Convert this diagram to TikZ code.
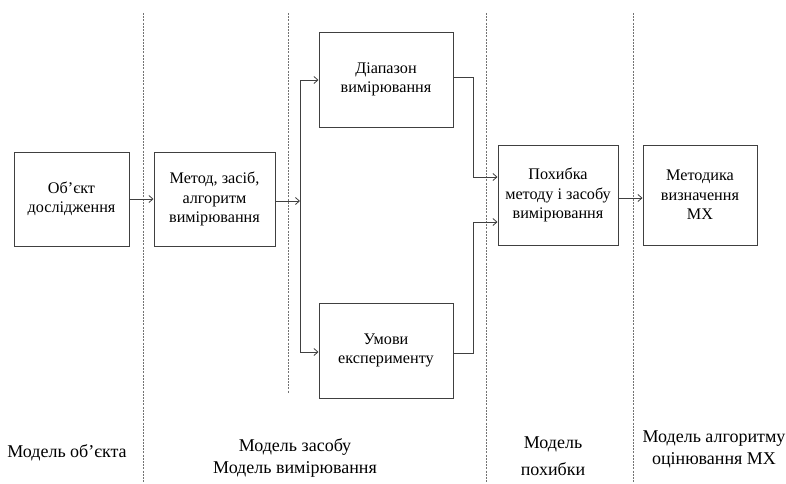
\documentclass[tikz,border=0pt]{standalone}
\usepackage{fontspec}
\setmainfont{Liberation Serif}
\usetikzlibrary{arrows.meta}
\begin{document}
\begin{tikzpicture}[x=1pt, y=-1pt, inner sep=1pt,
    blok/.style={draw=black!75, line width=1pt, align=center, font=\fontsize{16.2}{19.5}\selectfont},
    strl/.style={draw=black!75, line width=0.8pt, -{Straight Barb[length=4pt,width=7pt]}},
    mezha/.style={draw=black!55, line width=0.8pt, dash pattern=on 2pt off 1.2pt},
    pidpys/.style={align=center, font=\fontsize{18}{22}\selectfont}]
  \useasboundingbox (0,0) rectangle (786,483);
  \node[blok, minimum width=115, minimum height=94] (obj) at (71.5,199) {Об’єкт\\дослідження};
  \node[blok, minimum width=121, minimum height=94] (metod) at (214.5,199) {Метод, засіб,\\алгоритм\\вимірювання};
  \node[blok, minimum width=134, minimum height=95] (diap) at (386,79.5) {Діапазон\\вимірювання};
  \node[blok, minimum width=134, minimum height=95] (umovy) at (386,350.5) {Умови\\експерименту};
  \node[blok, minimum width=120, minimum height=100] (pokh) at (558,195) {Похибка\\методу і засобу\\вимірювання};
  \node[blok, minimum width=114, minimum height=100] (mtdk) at (700,195) {Методика\\визначення\\МХ};
  \coordinate (b0) at (300,80);
  \coordinate (b1) at (300,352);
  \coordinate (b2) at (300,201);
  \coordinate (v0) at (473,77);
  \coordinate (v1) at (473,353);
  \draw[mezha] (143,13) -- (143,483);
  \draw[mezha] (288,13) -- (288,393);
  \draw[mezha] (486,13) -- (486,483);
  \draw[mezha] (633,13) -- (633,483);
  \draw[strl] (obj) -- (metod);
  \draw[strl] (metod.east |- b2) -- (b2);
  \draw[draw=black!75, line width=0.8pt] (b0) -- (b1);
  \draw[strl] (b0) -- (diap.west |- b0);
  \draw[strl] (b1) -- (umovy.west |- b1);
  \draw[strl] (diap.east |- v0) -- (v0) -- (v0 |- 0,177) -- (pokh.west |- 0,177);
  \draw[strl] (umovy.east |- v1) -- (v1) -- (v1 |- 0,222) -- (pokh.west |- 0,222);
  \draw[strl] (pokh.east |- 0,198) -- (mtdk.west |- 0,198);
  \node[pidpys] (l0) at (67,453) {Модель об’єкта};
  \node[pidpys] (l1) at (295,458) {Модель засобу\\Модель вимірювання};
  \node[pidpys] (l2) at (553,456) {Модель\\[5pt]похибки};
  \node[pidpys] (l3) at (714,449) {Модель алгоритму\\оцінювання МХ};
\end{tikzpicture}
\end{document}
